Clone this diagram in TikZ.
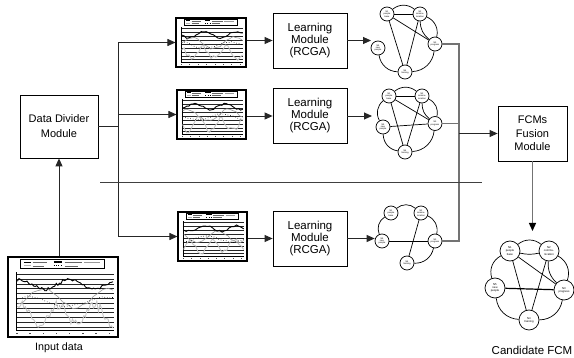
\documentclass[tikz,border=0pt]{standalone}
\usepackage{fontspec}
\setmainfont{Liberation Sans}
\usetikzlibrary{arrows.meta,calc}
\tikzset{
  box/.style={draw, line width=0.8pt, fill=white, align=center, inner sep=0pt, font=\fontsize{11}{15}\selectfont},
  chartbox/.style={draw, line width=1.1pt, inner sep=0pt, fill=white},
  conn/.style={line width=0.9pt, draw=black!85},
  arr/.style={conn, -{Triangle[length=8pt,width=7pt]}},
  bus/.style={line width=1.3pt, draw=black!55},
  fnode/.style={circle, draw, line width=0.7pt, fill=white, minimum size=14pt, inner sep=0pt, align=center, font=\fontsize{2.2}{2.4}\selectfont},
  cnode/.style={fnode, minimum size=20pt, font=\fontsize{2.8}{3.1}\selectfont},
  ring/.style={line width=0.7pt, bend left=40},
  chord/.style={line width=0.7pt},
}
\newcommand\minichart[6]{%
  \begin{scope}[shift={(#1.north west)}, xscale=#2, yscale=#3]
    \pgfmathsetseed{#4}
    \draw[line width=0.3pt] (0.12,0.035) rectangle (0.88,0.15);
    \draw[line width=0.8pt] (0.15,0.07) -- (0.21,0.07);
    \draw[black!60, line width=0.25pt] (0.23,0.07) -- (0.36,0.07);
    \draw[line width=1.2pt] (0.42,0.07) -- (0.5,0.07);
    \draw[black!60, line width=0.25pt] (0.52,0.07) -- (0.68,0.07);
    \draw[black!40, line width=0.25pt] (0.7,0.07) -- (0.84,0.07);
    \draw[gray!60, line width=0.8pt] (0.15,0.115) -- (0.21,0.115);
    \draw[black!60, line width=0.25pt] (0.23,0.115) -- (0.33,0.115);
    \draw[black, dotted, line width=0.4pt] (0.42,0.115) -- (0.5,0.115);
    \draw[black!60, line width=0.25pt] (0.52,0.115) -- (0.64,0.115);
    \foreach \gy in {0.22,#6,...,0.89} \draw[line width=0.25pt, black!85] (0.08,\gy) -- (0.97,\gy);
    \draw[line width=0.4pt] (0.08,0.2) -- (0.08,0.92) -- (0.97,0.92);
    \foreach \gx in {0.08,0.2,...,0.97} \fill[black!70] (\gx,0.955) rectangle ++(0.012,0.012);
    \draw[gray!45, line width=0.9pt] plot[samples=#5, domain=0.09:0.96, variable=\t] (\t, {0.66+0.12*sin(\t*1100+#4*40)+0.12*rnd});
    \draw[gray!80, line width=0.6pt] plot[samples=20, domain=0.09:0.96, variable=\t] (\t, {0.5+0.12*sin(\t*600+#4*25)+0.04*rnd});
    \draw[black, dotted, line width=0.6pt] plot[samples=18, domain=0.09:0.96, variable=\t] (\t, {0.55+0.06*cos(\t*500+#4*30)+0.03*rnd});
    \draw[black, line width=0.9pt] plot[samples=#5, domain=0.09:0.96, variable=\t] (\t, {0.33+0.06*sin(\t*800+#4*60)+0.04*rnd});
  \end{scope}}
\begin{document}
\begin{tikzpicture}[x=1pt,y=-1pt]
\useasboundingbox[fill=white] (0,0) rectangle (574,358);

% boxes
\node[box, minimum width=78pt, minimum height=63pt] (div) at (59,126.5) {Data Divider\\Module};
\node[box, minimum width=74pt, minimum height=55pt, font=\fontsize{11.5}{12}\selectfont] (lm1) at (310,40.5) {Learning\\Module\\(RCGA)};
\node[box, minimum width=74pt, minimum height=55pt, font=\fontsize{11.5}{12}\selectfont] (lm2) at (310,116) {Learning\\Module\\(RCGA)};
\node[box, minimum width=74pt, minimum height=55pt, font=\fontsize{11.5}{12}\selectfont] (lm3) at (310,238.5) {Learning\\Module\\(RCGA)};
\node[box, minimum width=69pt, minimum height=55pt, font=\fontsize{11}{13.5}\selectfont] (fus) at (532.5,133.5) {FCMs\\Fusion\\Module};

% charts
\node[chartbox, minimum width=110pt, minimum height=80pt] (in) at (63,297) {};
\minichart{in}{110}{80}{3}{60}{0.28}
\node[chartbox, minimum width=70pt, minimum height=49pt] (c1) at (211,42.5) {};
\minichart{c1}{70}{49}{5}{26}{0.3}
\node[chartbox, minimum width=69pt, minimum height=49pt] (c2) at (211.5,114.5) {};
\minichart{c2}{69}{49}{7}{30}{0.3}
\node[chartbox, minimum width=69pt, minimum height=49pt] (c3) at (212.5,236.5) {};
\minichart{c3}{69}{49}{11}{26}{0.3}

\node[font=\fontsize{10.7}{12}\selectfont] (inlab) at (59,348) {Input data};
\node[font=\fontsize{11.5}{12}\selectfont] (candlab) at (532,350) {Candidate FCM};

% FCM 1
\node[fnode] (a1) at (387,14) {N1\\people\\base};
\node[fnode] (a2) at (420,14) {N2\\commu-\\nication};
\node[fnode] (a3) at (435,44) {N3\\progress};
\node[fnode] (a4) at (405,72) {N4\\training};
\node[fnode] (a5) at (378,48) {N5\\new\\people};
\draw[ring] (a1) to (a2);
\draw[ring] (a2) to (a3);
\draw[ring] (a3) to (a4);
\draw[ring] (a4) to (a5);
\draw[chord] (a1) -- (a2);
\draw[chord] (a1) -- (a3);
\draw[chord] (a1) -- (a4);
\draw[chord] (a2) -- (a4);
\draw[chord] (a2) to[bend right=25] (a3);

% FCM 2
\node[fnode] (b1) at (389,96) {N1\\people\\base};
\node[fnode] (b2) at (422,96) {N2\\commu-\\nication};
\node[fnode] (b3) at (435,123.5) {N3\\progress};
\node[fnode] (b4) at (405,152) {N4\\training};
\node[fnode] (b5) at (383,127) {N5\\new\\people};
\draw[ring] (b1) to (b2);
\draw[ring] (b2) to (b3);
\draw[ring] (b3) to (b4);
\draw[ring] (b4) to (b5);
\draw[ring] (b5) to (b1);
\draw[chord] (b1) -- (b2);
\draw[chord] (b1) -- (b3);
\draw[chord] (b1) -- (b4);
\draw[chord] (b2) -- (b4);
\draw[chord] (b5) -- (b3);
\draw[chord] (b2) to[bend right=25] (b3);

% FCM 3
\node[fnode] (d1) at (391,213) {N1\\people\\base};
\node[fnode] (d2) at (421,213) {N2\\commu-\\nication};
\node[fnode] (d3) at (435,241) {N3\\progress};
\node[fnode] (d4) at (407,263) {N4\\training};
\node[fnode] (d5) at (382,241) {N5\\new\\people};
\draw[ring] (d5) to (d1);
\draw[ring] (d1) to (d2);
\draw[ring] (d2) to (d3);
\draw[ring] (d3) to (d4);
\draw[chord] (d5) -- (d3);
\draw[chord] (d2) -- (d4);

% Candidate FCM
\node[cnode] (e1) at (510,251) {N1\\people\\base};
\node[cnode] (e2) at (549,251) {N2\\commu-\\nication};
\node[cnode] (e3) at (564,290) {N3\\progress};
\node[cnode] (e4) at (529,320) {N4\\training};
\node[cnode] (e5) at (495,288) {N5\\new\\people};
\draw[ring] (e1) to (e2);
\draw[ring] (e2) to (e3);
\draw[ring] (e3) to (e4);
\draw[ring] (e4) to (e5);
\draw[ring] (e5) to (e1);
\draw[chord] (e1) to[bend right=12] (e2);
\draw[chord] (e1) -- (e3);
\draw[chord] (e1) -- (e4);
\draw[chord] (e2) -- (e4);
\draw[line width=1.2pt] (e5) -- (e3);
\draw[chord] (e2) to[bend right=25] (e3);

% connectors
\draw[arr] (in.north -| div.south) -- (div.south);
\coordinate (jn) at (118,126.5);
\draw[conn] (div.east) -- (jn);
\draw[arr] (jn) |- (c1.west);
\draw[arr] (jn) |- (c2.west);
\draw[arr] (jn) |- (c3.west);
\draw[arr] (c1.east |- lm1.west) -- (lm1.west);
\draw[arr] (c2.east |- lm2.west) -- (lm2.west);
\draw[arr] (c3.east |- lm3.west) -- (lm3.west);
\coordinate (f1in) at (371,40.5);
\coordinate (f2in) at (372,116);
\draw[arr] (lm1.east) -- (f1in);
\draw[arr] (lm2.east) -- (f2in);
\draw[arr] (lm3.east) -- (lm3.east -| d5.west);

\coordinate (busT) at (459,44);
\coordinate (busB) at (459,241);
\draw[bus] (a3.east) -- (busT) -- (busB) -- (d3.east);
\draw[bus] (b3.east) -- (b3.east -| busT);
\draw[arr] (fus.west -| busT) -- (fus.west);
\coordinate (fusout) at (532.5,231);
\draw[bus, -{Triangle[length=8pt,width=7pt,color=black]}] (fus.south) -- (fusout);

\coordinate (sepL) at (100,182);
\coordinate (sepR) at (482,182);
\draw[line width=0.9pt, black!75] (sepL) -- (sepR);
\end{tikzpicture}
\end{document}
